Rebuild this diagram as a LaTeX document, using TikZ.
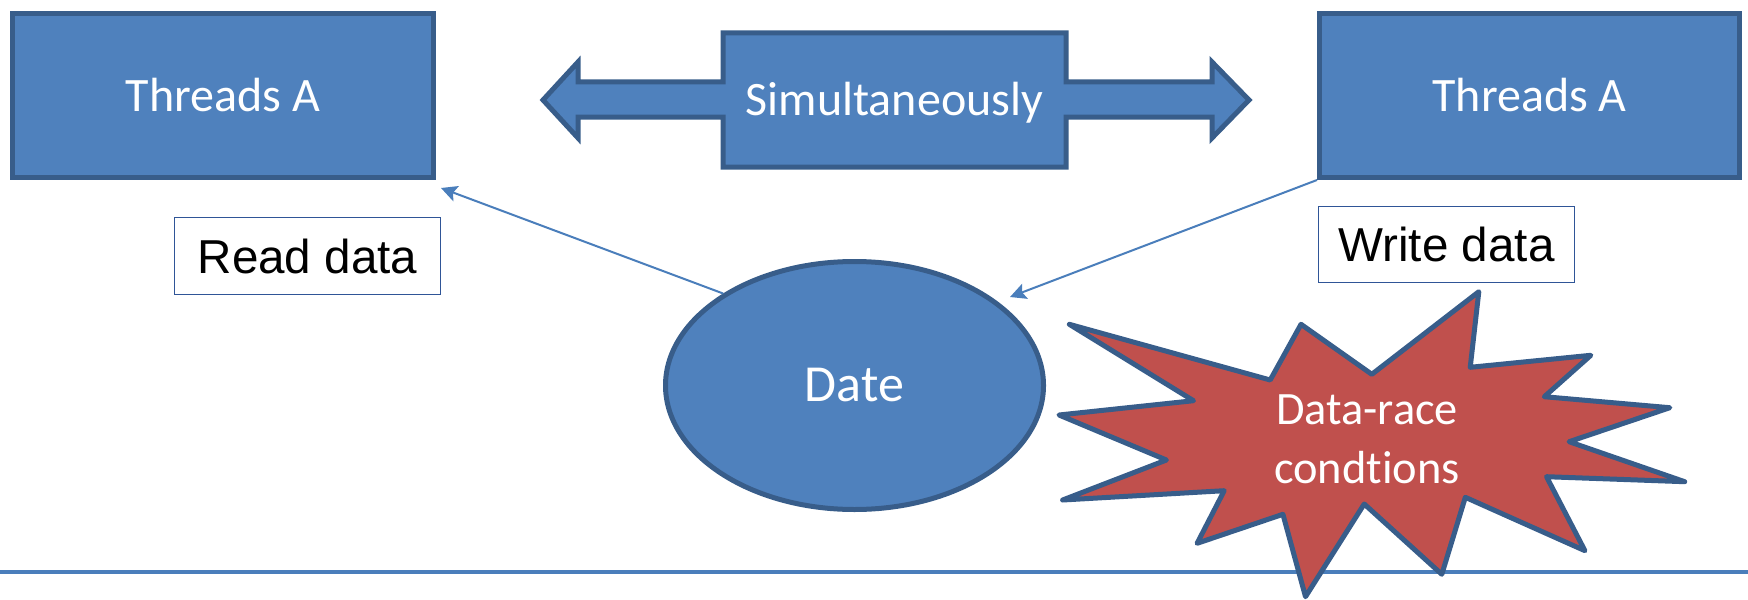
\documentclass[tikz,border=0pt]{standalone}
\usepackage{fontspec}
\setmainfont{Carlito}[Ligatures=NoCommon]
\newfontfamily\arialfont{Liberation Sans}
\usetikzlibrary{shapes.geometric,arrows.meta,calc}

\definecolor{shapefill}{HTML}{4F81BD}
\definecolor{shapeline}{HTML}{385D8A}
\definecolor{burstfill}{HTML}{C0504D}
\definecolor{linkcolor}{HTML}{4A7EBB}
\definecolor{labelline}{HTML}{2F5597}

\begin{document}
\begin{tikzpicture}[x=0.5pt,y=-0.5pt,
  block/.style={draw=shapeline, fill=shapefill, line width=2.5pt, text=white,
    inner sep=0pt, font=\fontsize{24}{28}\selectfont},
  thread/.style={block, rectangle, minimum width=210.5pt, minimum height=82pt},
  outline/.style={draw=shapeline, fill=shapefill, line width=2.5pt, line join=miter},
  burst/.style={draw=shapeline, fill=burstfill, line width=2.5pt, line join=round},
  tag/.style={draw=labelline, fill=white, line width=0.7pt, inner sep=0pt,
    font=\arialfont\fontsize{23.8}{27}\selectfont},
  link/.style={draw=linkcolor, line width=1pt,
    -{Stealth[length=8pt,width=8pt,inset=1.5pt]}},
  rule/.style={draw=linkcolor, line width=2pt}]

\useasboundingbox (0,0) rectangle (1748,599);

% the two threads
\node[thread] (thrL) at (223,95.5) {Threads A};
\node[thread, minimum width=210pt] (thrR) at (1529.5,95.5) {Threads A};

% two-headed arrow with a wide middle panel
\draw[outline] (543,100) -- (578,62) -- (578,82) -- (723,82) -- (723,33)
  -- (1066,33) -- (1066,82) -- (1212,82) -- (1212,62) -- (1249,100)
  -- (1212,138) -- (1212,117) -- (1066,117) -- (1066,167) -- (723,167)
  -- (723,117) -- (578,117) -- (578,138) -- cycle;
\node[text=white, inner sep=0pt, anchor=base, font=\fontsize{24}{28}\selectfont]
  (simul) at (894.5,115) {Simultaneously};

% shared data
\node[block, ellipse, minimum width=189pt, minimum height=124pt,
  font=\fontsize{26}{30}\selectfont] (date) at (854.5,385.5) {Date};

% access labels
\node[tag, minimum width=133pt, minimum height=38.5pt] (read) at (307.5,256) {Read data};
\node[tag, minimum width=128pt, minimum height=38pt] (write) at (1446.5,244.5) {Write data};

% access arrows
\coordinate (readtip) at (441,188);
\coordinate (writetip) at (1010,297);
\draw[link] (date.145) -- (readtip);
\draw[link] (thrR.south west) -- (writetip);

% base rule
\draw[rule] (0,572) -- (1748,572);

% conflict burst
\draw[burst] (1069.3,324.3) -- (1270.2,380) -- (1301,324.3) -- (1371.8,374.3)
  -- (1478.8,291.7) -- (1470.2,367.3) -- (1590.8,355.3) -- (1544.3,396.7)
  -- (1669.8,407.7) -- (1569.1,441.7) -- (1684.7,481.7) -- (1546.5,476.7)
  -- (1584.9,550.7) -- (1465.3,497.3) -- (1441.8,574.3) -- (1364.2,504)
  -- (1305.5,596.7) -- (1282.9,514.3) -- (1197.1,543.3) -- (1224.2,490.7)
  -- (1062.6,500) -- (1166.4,460) -- (1059,415) -- (1193.5,400.7) -- cycle;
\node[text=white, inner sep=0pt, align=center, font=\fontsize{23.2}{29.5}\selectfont]
  (race) at (1367,439) {Data-race\\condtions};

\end{tikzpicture}
\end{document}
